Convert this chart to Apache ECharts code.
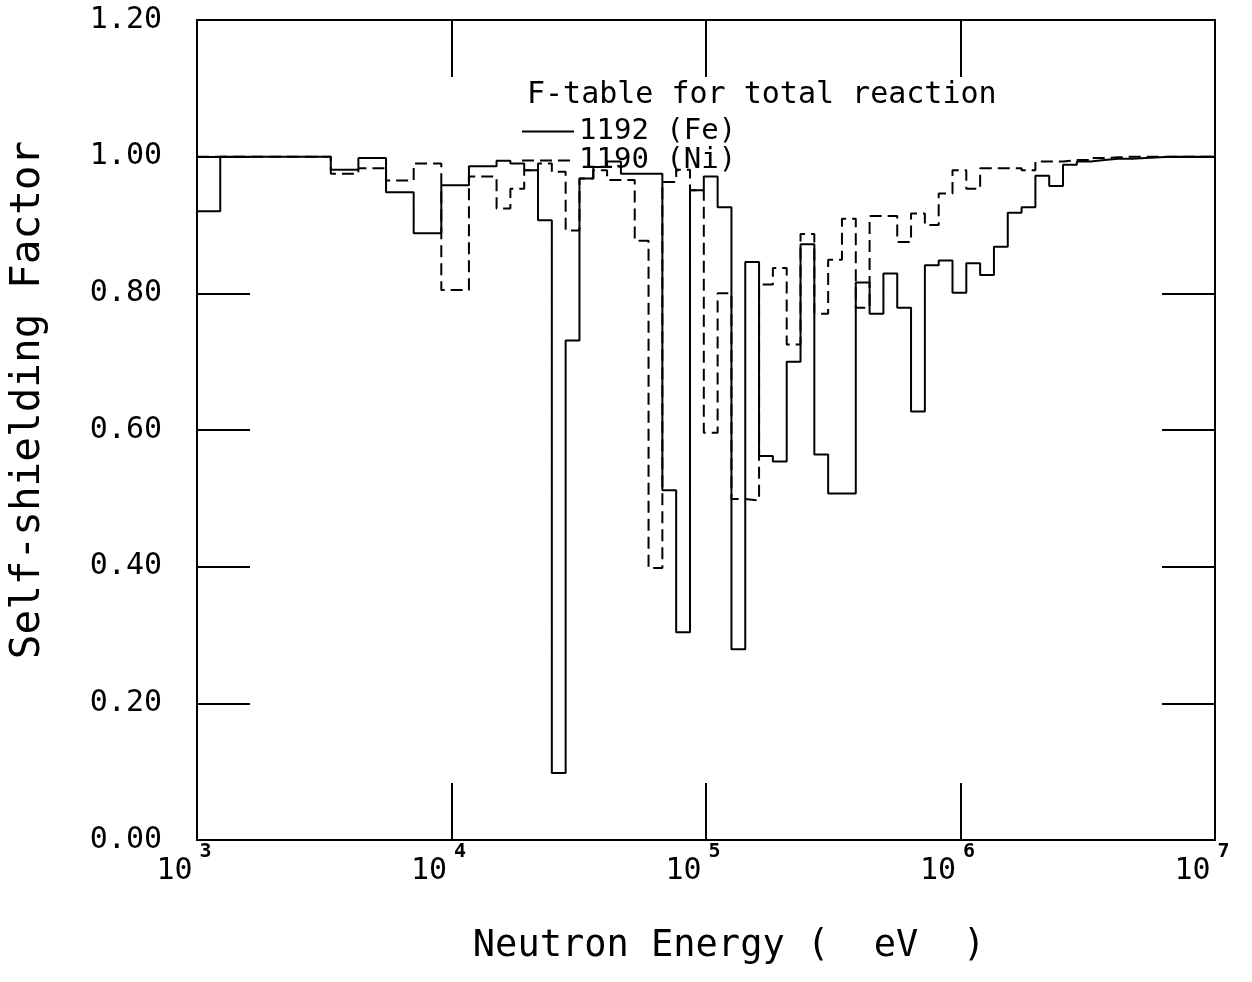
<!DOCTYPE html>
<html>
<head>
<meta charset="utf-8">
<script src="https://cdn.jsdelivr.net/npm/echarts@6/dist/echarts.min.js"></script>
<style>
html,body{margin:0;padding:0;background:#fff;}
#chart{width:1252px;height:982px;}
</style>
</head>
<body>
<div id="chart"></div>
<script>
// Group boundaries (eV)
const edges = [1000, 1234, 1585, 2035, 2613, 3355, 4307, 5531, 7102, 9119, 11709,
  15034, 17035, 19305, 21875, 24788, 28088, 31828, 36066, 40868, 46309, 52475,
  59461, 67379, 76349, 86517, 98037, 111090, 125880, 142642, 161630, 183156,
  207540, 235177, 266490, 301974, 342180, 387742, 439369, 497871, 564161,
  639279, 724398, 820850, 930145, 1053992, 1194330, 1353353, 1533550, 1737739,
  1969100, 2231302, 2528396, 2865048, 3246525, 3678794, 4168620, 4723666,
  5352614, 6065307, 6872893, 7788008, 8824969, 10000000];

// Self-shielding factors per group
const fe1192 = [0.92, 1.0, 1.0, 1.0, 1.0, 0.981, 0.998, 0.948, 0.888, 0.958, 0.986,
  0.994, 0.99, 0.98, 0.907, 0.098, 0.731, 0.968, 0.985, 0.993, 0.975, 0.975,
  0.975, 0.512, 0.304, 0.951, 0.971, 0.926, 0.279, 0.846, 0.562, 0.554, 0.70,
  0.872, 0.564, 0.507, 0.507, 0.816, 0.770, 0.829, 0.779, 0.627, 0.841, 0.848,
  0.801, 0.844, 0.827, 0.868, 0.918, 0.926, 0.972, 0.957, 0.988, 0.993, 0.995,
  0.997, 0.997, 0.998, 0.999, 1.0, 1.0, 1.0, 1.0];

const ni1190 = [1.0, 1.0, 1.0, 1.0, 1.0, 0.975, 0.983, 0.965, 0.99, 0.805, 0.971,
  0.924, 0.953, 0.98, 0.99, 0.978, 0.892, 0.968, 0.98, 0.966, 0.966, 0.877,
  0.398, 0.963, 0.981, 0.951, 0.596, 0.80, 0.499, 0.497, 0.813, 0.837, 0.725,
  0.887, 0.770, 0.849, 0.909, 0.779, 0.913, 0.913, 0.875, 0.917, 0.90, 0.946,
  0.980, 0.953, 0.983, 0.983, 0.983, 0.98, 0.993, 0.993, 0.995, 0.995, 0.998,
  0.999, 1.0, 1.0, 1.0, 1.0, 1.0, 1.0, 1.0];

const yTicks = ['0.00', '0.20', '0.40', '0.60', '0.80', '1.00', '1.20'];
const seriesNames = ['1192 (Fe)', '1190 (Ni)'];
const titleText = 'F-table for total reaction';
const xName = 'Neutron Energy (  eV  )';
const yName = 'Self-shielding Factor';

function stepData(vals) {
  const d = vals.map((v, i) => [edges[i], v]);
  d.push([edges[edges.length - 1], vals[vals.length - 1]]);
  return d;
}

const FONT = 'DejaVu Sans Mono';
const black = '#000';
const chart = echarts.init(document.getElementById('chart'), null, {renderer: 'canvas'});

const logAxisBase = {
  type: 'log', logBase: 10, min: 1000, max: 10000000, splitNumber: 4,
  axisLine: {show: true, onZero: false, lineStyle: {color: black, width: 2}},
  axisTick: {show: true, inside: true, length: 57, lineStyle: {color: black, width: 2}},
  minorTick: {show: false}, splitLine: {show: false}, minorSplitLine: {show: false}
};
const valAxisBase = {
  type: 'value', min: 0, max: 1.2, interval: 0.2,
  axisLine: {show: true, onZero: false, lineStyle: {color: black, width: 2}},
  axisTick: {show: true, inside: true, length: 53, lineStyle: {color: black, width: 2}},
  splitLine: {show: false}
};

chart.setOption({
  animation: false,
  backgroundColor: '#fff',
  title: {
    text: titleText, left: 522, top: 75,
    textStyle: {fontFamily: FONT, fontSize: 30, fontWeight: 'normal', color: black}
  },
  legend: {
    data: seriesNames, left: 516, top: 112, orient: 'vertical',
    itemWidth: 52, itemHeight: 14, itemGap: 0,
    itemStyle: {opacity: 0},
    textStyle: {fontFamily: FONT, fontSize: 29, color: black, lineHeight: 28}
  },
  grid: {left: 195, right: 37, top: 20, bottom: 142, show: false},
  xAxis: [
    Object.assign({}, logAxisBase, {
      position: 'bottom',
      axisLabel: {
        margin: 2, padding: [0, 26, 0, 0],
        formatter: v => '{b|10}{e|' + Math.round(Math.log10(v)) + '}',
        rich: {
          b: {fontFamily: FONT, fontSize: 30, color: black, lineHeight: 44, verticalAlign: 'bottom'},
          e: {fontFamily: FONT, fontSize: 20, fontWeight: 'bold', color: black, lineHeight: 22, verticalAlign: 'top', padding: [0, 0, 0, 7]}
        }
      },
      name: xName, nameLocation: 'middle', nameGap: 88,
      nameTextStyle: {fontFamily: FONT, fontSize: 37, color: black, padding: [0, 0, 0, 46]}
    }),
    Object.assign({}, logAxisBase, {position: 'top', axisLabel: {show: false}})
  ],
  yAxis: [
    Object.assign({}, valAxisBase, {
      position: 'left',
      axisLabel: {
        margin: 35, fontFamily: FONT, fontSize: 30, color: black,
        formatter: v => yTicks[Math.round(v / 0.2)]
      },
      name: yName, nameLocation: 'middle', nameGap: 148,
      nameTextStyle: {fontFamily: FONT, fontSize: 41, color: black, padding: [0, 0, 0, 60]}
    }),
    Object.assign({}, valAxisBase, {position: 'right', axisLabel: {show: false}})
  ],
  series: [
    {
      name: seriesNames[0], type: 'line', step: 'end', data: stepData(fe1192),
      showSymbol: false, symbol: 'none', color: black,
      lineStyle: {color: black, width: 2, type: 'solid'}
    },
    {
      name: seriesNames[1], type: 'line', step: 'end', data: stepData(ni1190),
      showSymbol: false, symbol: 'none', color: black,
      lineStyle: {color: black, width: 2, type: [12, 6]}
    }
  ]
});
</script>
</body>
</html>
